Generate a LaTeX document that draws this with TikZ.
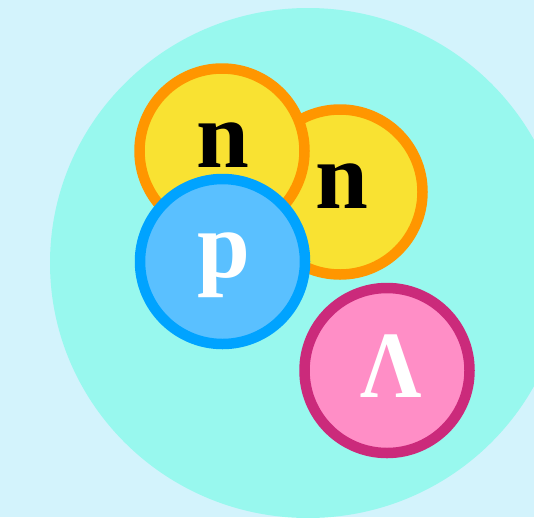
\documentclass[tikz,border=0pt]{standalone}
\usepackage{fontspec}
\setmainfont{Liberation Serif}
\definecolor{bgc}{HTML}{D3F3FC}
\definecolor{bigc}{HTML}{98F8EE}
\definecolor{yel}{HTML}{F9E232}
\definecolor{org}{HTML}{FF9600}
\definecolor{bluef}{HTML}{5AC0FF}
\definecolor{blues}{HTML}{00A3FF}
\definecolor{pinkf}{HTML}{FF8EC6}
\definecolor{pinks}{HTML}{CB2A7B}
\tikzset{
  ball/.style={circle, inner sep=0pt, minimum size=165pt, line width=10.5pt},
  neutron/.style={ball, fill=yel, draw=org},
  proton/.style={ball, fill=bluef, draw=blues},
  lambda/.style={ball, fill=pinkf, draw=pinks},
  lbl/.style={anchor=base, inner sep=0pt, font=\fontsize{95}{95}\selectfont\bfseries}
}
\begin{document}
\begin{tikzpicture}[x=1pt,y=-1pt]
\fill[bgc] (0,0) rectangle (534,517);
\useasboundingbox (0,0) rectangle (534,517);
\begin{scope}
\clip (0,0) rectangle (534,517);
\fill[bigc] (308,263) ellipse [x radius=258, y radius=255];
\end{scope}
\node[neutron] (n2) at (340,192) {};
\node[neutron] (n1) at (222,151) {};
\node[proton] (p) at (222.5,261.5) {};
\node[lambda] (L) at (387,370.5) {};
\node[lbl, text=black] (tn1) at (222.8,167) {n};
\node[lbl, text=black] (tn2) at (341.5,208) {n};
\node[lbl, text=white] (tp) at (223.5,277) {p};
\node[lbl, text=white, xscale=0.9] (tL) at (391.5,397) {Λ};
\end{tikzpicture}
\end{document}
